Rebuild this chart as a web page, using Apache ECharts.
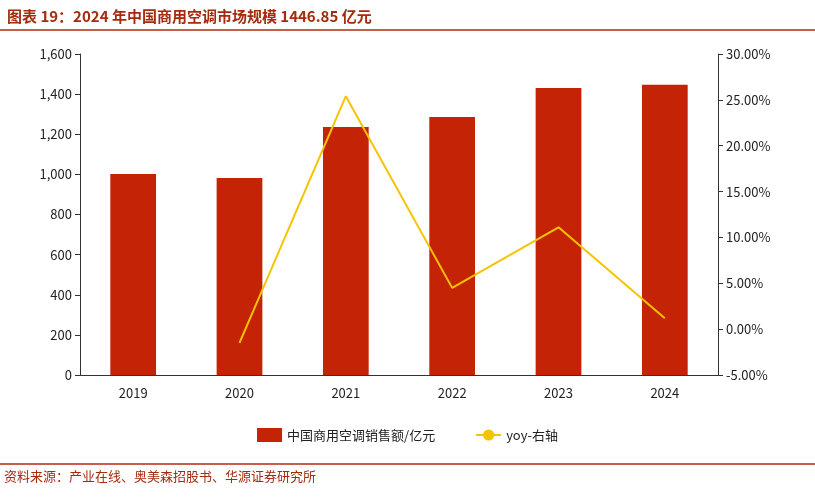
<!DOCTYPE html>
<html><head><meta charset="utf-8">
<script src="https://cdn.jsdelivr.net/npm/echarts@6/dist/echarts.min.js"></script>
<style>html,body{margin:0;padding:0;background:#fff}#c{width:815px;height:497px}</style>
</head><body><div id="c"></div>
<script>
const categories=['2019','2020','2021','2022','2023','2024'];
const salesValues=[1002,982,1236,1286,1431,1446.85];
const yoyValues=[null,-1.5,25.4,4.5,11.1,1.2];
const leftTicks=[0,1600,200];
const rightTicks=[-5,30,5];
const chart=echarts.init(document.getElementById('c'));
const font='"Noto Sans CJK SC", sans-serif';
chart.setOption({
  animation:false,
  textStyle:{fontFamily:font},
  title:{text:'图表 19：2024 年中国商用空调市场规模 1446.85 亿元',left:2,top:4,textStyle:{color:'#a52a0e',fontSize:15,fontWeight:'bold',fontFamily:font}},
  graphic:[
    {type:'line',shape:{x1:0,y1:30,x2:815,y2:30},style:{stroke:'#b22a10',lineWidth:1.5}},
    {type:'line',shape:{x1:0,y1:464,x2:815,y2:464},style:{stroke:'#b22a10',lineWidth:1.5}},
    {type:'text',left:4,top:470,style:{text:'资料来源：产业在线、奥美森招股书、华源证券研究所',fill:'#a52a0e',fontSize:13,fontFamily:font}}
  ],
  legend:{bottom:50,itemGap:40,textStyle:{fontSize:13,color:'#222'},
    data:[{name:'中国商用空调销售额/亿元',icon:'rect',itemWidth:44,itemHeight:10},{name:'yoy-右轴'}]},
  grid:{left:80,right:97,top:54,bottom:122},
  xAxis:{type:'category',data:categories,axisTick:{alignWithLabel:false,inside:false},axisLine:{lineStyle:{color:'#333'}},axisLabel:{color:'#222',fontSize:13,margin:12}},
  yAxis:[
    {type:'value',min:leftTicks[0],max:leftTicks[1],interval:leftTicks[2],splitLine:{show:false},axisLine:{show:true,lineStyle:{color:'#333'}},axisTick:{show:true},
      axisLabel:{color:'#222',fontSize:13,formatter:v=>v.toLocaleString('en-US')}},
    {type:'value',min:rightTicks[0],max:rightTicks[1],interval:rightTicks[2],splitLine:{show:false},axisLine:{show:true,lineStyle:{color:'#333'}},axisTick:{show:true},
      axisLabel:{color:'#222',fontSize:13,formatter:v=>v.toFixed(2)+'%'}}
  ],
  series:[
    {name:'中国商用空调销售额/亿元',type:'bar',data:salesValues,barWidth:'43%',itemStyle:{color:'#c52305'}},
    {name:'yoy-右轴',type:'line',yAxisIndex:1,data:yoyValues,symbol:'none',lineStyle:{color:'#f5c400',width:2},itemStyle:{color:'#f5c400'}}
  ]
});
</script></body></html>
